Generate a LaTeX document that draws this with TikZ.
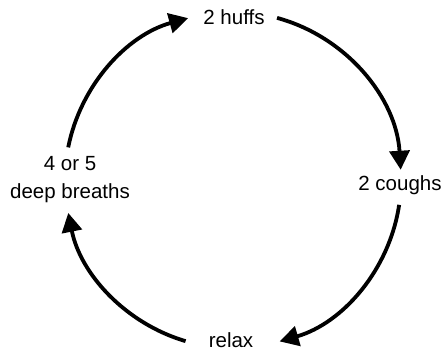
\documentclass[tikz,border=0pt]{standalone}
\usepackage{fontspec}
\setmainfont{Liberation Sans}
\usetikzlibrary{arrows.meta,calc}
\begin{document}
\begin{tikzpicture}[x=1pt,y=1pt,
  lbl/.style={inner sep=0pt,align=center,font=\fontsize{20.5}{28}\selectfont},
  arr/.style={line width=3.8pt,-{Triangle[length=19pt,width=20pt]}}]
\useasboundingbox (-233,-171) rectangle (212,180);
\coordinate (c) at (0,0);
\node[lbl] (huffs) at (1,163) {2 huffs};
\node[lbl] (coughs) at (167,-5) {2 coughs};
\node[lbl] (relax) at (-2,-160) {relax};
\node[lbl] (breaths) at (-163,0) {4 or 5\\deep breaths};
\coordinate (s1) at ($(c)+(168.8:168)$);
\coordinate (s2) at ($(c)+(74.8:168)$);
\coordinate (s3) at ($(c)+(-8.5:168)$);
\coordinate (s4) at ($(c)+(-106.4:168)$);
\draw[arr] (s1) arc[start angle=168.8,end angle=105.5,radius=168];
\draw[arr] (s2) arc[start angle=74.8,end angle=3.5,radius=168];
\draw[arr] (s3) arc[start angle=-8.5,end angle=-73.9,radius=168];
\draw[arr] (s4) arc[start angle=-106.4,end angle=-168.7,radius=168];
\end{tikzpicture}
\end{document}
